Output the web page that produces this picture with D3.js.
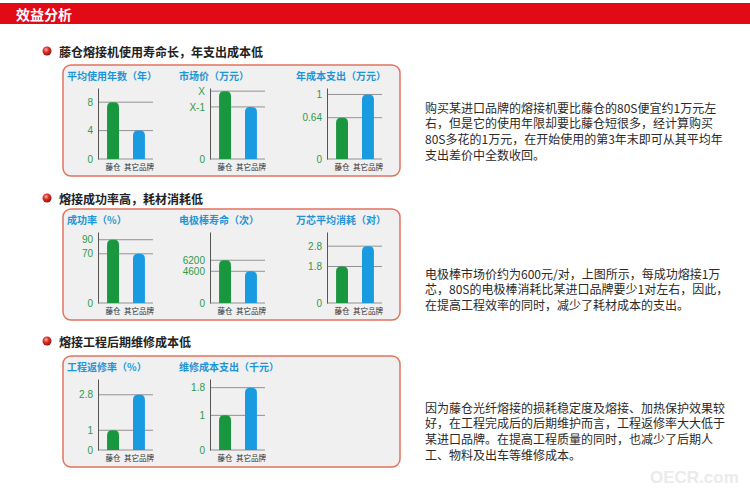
<!DOCTYPE html>
<html>
<head>
<meta charset="utf-8">
<script src="https://cdn.jsdelivr.net/npm/d3@7"></script>
<style>
  body { margin: 0; background: #fff; }
  svg { display: block; font-family: "Noto Sans CJK SC", "Noto Sans", sans-serif; }
</style>
</head>
<body>
<div id="chart"></div>
<script>
// data
var pageTitle = '效益分析'
var categories = ['藤仓', '其它品牌']
var sectionTitles = ['藤仓熔接机使用寿命长，年支出成本低', '熔接成功率高，耗材消耗低', '熔接工程后期维修成本低']
var chartTitles = [
  ['平均使用年数（年）', '市场价（万元）', '年成本支出（万元）'],
  ['成功率（%）', '电极棒寿命（次）', '万芯平均消耗（对）'],
  ['工程返修率（%）', '维修成本支出（千元）']
]
// [藤仓, 其它品牌]
var barValues = [
  [[8, 4], [4.3, 3.3], [0.64, 1]],
  [[90, 70], [6200, 4600], [1.8, 2.8]],
  [[1, 2.8], [1, 1.8]]
]
var tickValues = [
  [[0, 4, 8], [0, 3.3, 4.3], [0, 0.64, 1]],
  [[0, 70, 90], [0, 4600, 6200], [0, 1.8, 2.8]],
  [[0, 1, 2.8], [0, 1, 1.8]]
]
// the price chart uses symbolic labels
var tickLabels = [
  [null, ['0', 'X-1', 'X'], null],
  [null, null, null],
  [null, null]
]
var axisMax = [
  [10, 4.5, 1.1],
  [101, 10300, 3.5],
  [3.6, 2.05]
]
var notes = [
  ['购买某进口品牌的熔接机要比藤仓的80S便宜约1万元左', '右，但是它的使用年限却要比藤仓短很多，经计算购买', '80S多花的1万元，在开始使用的第3年末即可从其平均年', '支出差价中全数收回。'],
  ['电极棒市场价约为600元/对，上图所示，每成功熔接1万', '芯，80S的电极棒消耗比某进口品牌要少1对左右，因此，', '在提高工程效率的同时，减少了耗材成本的支出。'],
  ['因为藤仓光纤熔接的损耗稳定度及熔接、加热保护效果较', '好，在工程完成后的后期维护而言，工程返修率大大低于', '某进口品牌。在提高工程质量的同时，也减少了后期人', '工、物料及出车等维修成本。']
]

var svgWidth = 750
var svgHeight = 491

var svg = d3.select('#chart')
  .append('svg')
  .attr('width', svgWidth)
  .attr('height', svgHeight)

var defs = svg.append('defs')
var grad = defs.append('radialGradient')
  .attr('id', 'ball')
  .attr('cx', '40%').attr('cy', '35%').attr('r', '65%')
grad.append('stop').attr('offset', '0%').attr('stop-color', '#ffb0a8')
grad.append('stop').attr('offset', '45%').attr('stop-color', '#e0322a')
grad.append('stop').attr('offset', '100%').attr('stop-color', '#8e1410')

//header bar
svg.append('rect')
  .attr('x', 0).attr('y', 3)
  .attr('width', svgWidth).attr('height', 21)
  .attr('fill', '#e30a17')
svg.append('text')
  .attr('x', 16).attr('y', 14)
  .attr('dominant-baseline', 'central')
  .attr('fill', '#fff')
  .attr('font-size', 14)
  .attr('font-weight', 'bold')
  .text(pageTitle)

var sectionY = [51, 198, 341]
var panelTop = [65, 209, 356]
var panelLeft = 63
var panelWidth = 337
var panelHeight = 111
var axisX = [98, 210, 327]
var plotTop = 23
var plotHeight = 71

var green = '#18973f'
var blue = '#1a9be1'

function barPath(x, y, w, h) {
  var r = Math.min(5, w / 2, h)
  return 'M' + x + ',' + (y + h) +
    'V' + (y + r) +
    'Q' + x + ',' + y + ' ' + (x + r) + ',' + y +
    'H' + (x + w - r) +
    'Q' + (x + w) + ',' + y + ' ' + (x + w) + ',' + (y + r) +
    'V' + (y + h) + 'Z'
}

sectionTitles.forEach(function(title, s) {
  var sec = svg.append('g')

  sec.append('circle')
    .attr('cx', 47).attr('cy', sectionY[s])
    .attr('r', 4.5)
    .attr('fill', 'url(#ball)')

  sec.append('text')
    .attr('x', 59).attr('y', sectionY[s])
    .attr('dominant-baseline', 'central')
    .attr('font-size', 12)
    .attr('font-weight', 'bold')
    .attr('fill', '#222')
    .text(title)

  sec.append('rect')
    .attr('x', panelLeft).attr('y', panelTop[s])
    .attr('width', panelWidth).attr('height', panelHeight)
    .attr('rx', 8)
    .attr('fill', '#f0f0f0')
    .attr('stroke', '#e2735f')
    .attr('stroke-width', 1.5)

  chartTitles[s].forEach(function(ct, c) {
    var x0 = axisX[c]
    var yTop = panelTop[s] + plotTop
    var yBottom = yTop + plotHeight
    var values = barValues[s][c]

    var xScale = d3.scaleBand()
      .domain(categories)
      .range([x0, x0 + 56])
      .paddingInner(0.54)
      .paddingOuter(0.35)

    var yScale = d3.scaleLinear()
      .domain([0, axisMax[s][c]])
      .range([yBottom, yTop])

    var g = sec.append('g')

    g.append('text')
      .attr('x', x0 - 31).attr('y', panelTop[s] + 10)
      .attr('dominant-baseline', 'central')
      .attr('font-size', 10)
      .attr('font-weight', 'bold')
      .attr('fill', '#1d95d8')
      .text(ct)

    //grid lines
    g.selectAll('.grid')
      .data(tickValues[s][c])
      .enter()
      .append('line')
      .attr('x1', x0).attr('x2', x0 + 55)
      .attr('y1', d => yScale(d)).attr('y2', d => yScale(d))
      .attr('stroke', '#7a7a7a')
      .attr('stroke-width', 0.8)

    var labels = tickLabels[s][c]
    var yAxis = d3.axisLeft(yScale)
      .tickValues(tickValues[s][c])
      .tickSize(0)
      .tickSizeOuter(0)
      .tickPadding(5)
      .tickFormat(function(d, i) { return labels ? labels[i] : d })

    var axisG = g.append('g')
      .attr('transform', `translate(${x0},0)`)
      .call(yAxis)
    axisG.select('.domain').attr('stroke', '#555').attr('stroke-width', 1)
    axisG.selectAll('text')
      .attr('fill', '#2f9a4a')
      .attr('font-size', 10)
      .attr('font-family', '"Liberation Sans", Arial, sans-serif')

    g.selectAll('.bar')
      .data(values)
      .enter()
      .append('path')
      .attr('d', function(d, i) {
        var bx = xScale(categories[i])
        return barPath(bx, yScale(d), xScale.bandwidth(), yBottom - yScale(d))
      })
      .attr('fill', (d, i) => i === 0 ? green : blue)

    g.selectAll('.cat')
      .data(categories)
      .enter()
      .append('text')
      .attr('x', d => xScale(d) + xScale.bandwidth() / 2)
      .attr('y', yBottom + 7)
      .attr('text-anchor', 'middle')
      .attr('dominant-baseline', 'central')
      .attr('font-size', 7.5)
      .attr('fill', '#333')
      .text(d => d)
  })
})

//notes on the right
var noteTop = [107, 273, 407]
notes.forEach(function(lines, s) {
  svg.append('g')
    .selectAll('text')
    .data(lines)
    .enter()
    .append('text')
    .attr('x', 425)
    .attr('y', (d, i) => noteTop[s] + i * 15.7)
    .attr('dominant-baseline', 'central')
    .attr('font-size', 12)
    .attr('fill', '#2a2a2a')
    .text(d => d)
})

svg.append('text')
  .attr('x', 650).attr('y', 477)
  .attr('dominant-baseline', 'central')
  .attr('font-size', 17)
  .attr('font-weight', 'bold')
  .attr('font-family', '"Liberation Sans", Arial, sans-serif')
  .attr('fill', '#ebebeb')
  .text('OECR.com')
</script>
</body>
</html>
